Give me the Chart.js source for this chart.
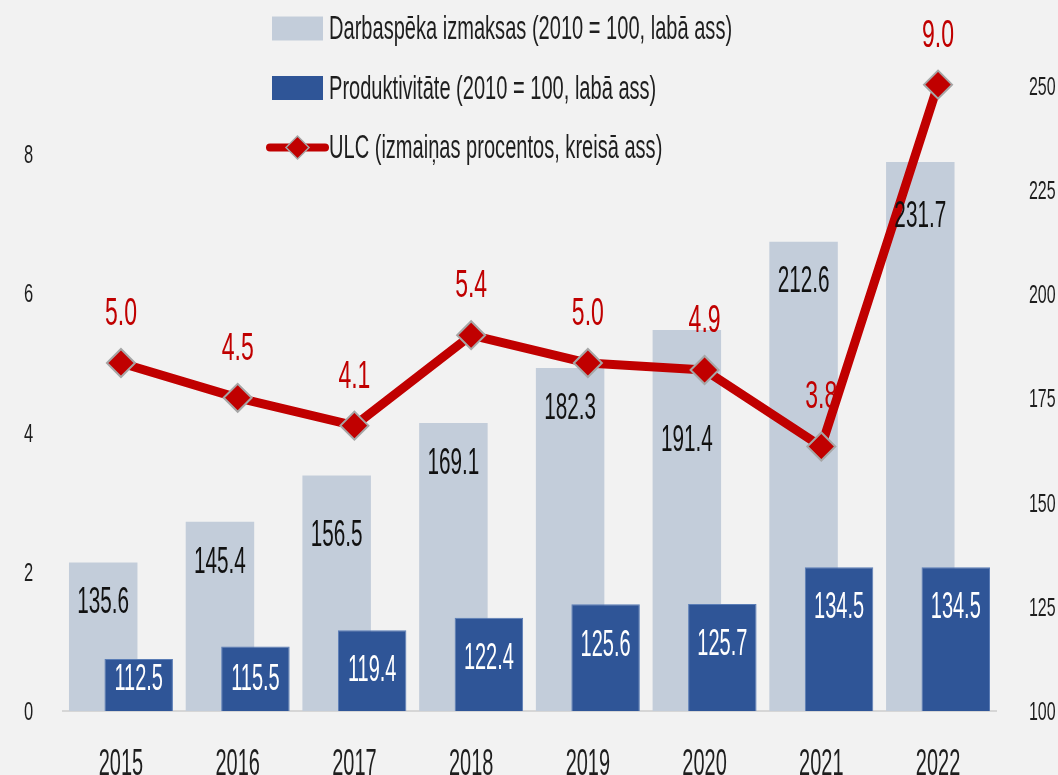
<!DOCTYPE html>
<html lang="lv">
<head>
<meta charset="utf-8">
<title>Darbaspēka izmaksas, produktivitāte un ULC</title>
<script src="https://cdn.jsdelivr.net/npm/chart.js@4.4.1/dist/chart.umd.min.js"></script>
<style>
  html, body { margin: 0; padding: 0; background: #f2f2f2; }
  #wrap { width: 1058px; height: 775px; }
</style>
</head>
<body>
<div id="wrap"><canvas id="ulcChart" width="1058" height="775"></canvas></div>
<script>
// --- data ---
const years = ["2015", "2016", "2017", "2018", "2019", "2020", "2021", "2022"];
const labourCost = [135.6, 145.4, 156.5, 169.1, 182.3, 191.4, 212.6, 231.7];   // 2010 = 100, right axis
const productivity = [112.5, 115.5, 119.4, 122.4, 125.6, 125.7, 134.5, 134.5]; // 2010 = 100, right axis
const ulcChange = [5.0, 4.5, 4.1, 5.4, 5.0, 4.9, 3.8, 9.0];                    // %, left axis
const leftTicks = [0, 2, 4, 6, 8];
const rightTicks = [100, 125, 150, 175, 200, 225, 250];

// extra downward shift (px) of the labour cost labels, to keep them clear of the line
const costLabelShift = [0, 0, 20, 0, 0, 70, 0, 14];

// no condensed face is installed, so Liberation Sans is squeezed horizontally
const FONT = "'Liberation Sans', Arial, sans-serif";
const RED = "#c00000";
const INK = "#1e1e1e";

function squeezedText(ctx, text, x, cy, size, color, align, squeeze) {
  ctx.save();
  ctx.font = size + "px " + FONT;
  ctx.fillStyle = color;
  ctx.textAlign = align || "center";
  ctx.textBaseline = "alphabetic";
  ctx.translate(x, cy + size * 0.358);
  ctx.scale(squeeze || 0.57, 1);
  ctx.fillText(text, 0, 0);
  ctx.restore();
}

const costSet = {
  type: "bar",
  label: "Darbaspēka izmaksas (2010 = 100, labā ass)",
  data: labourCost,
  yAxisID: "y1",
  stack: "a",
  backgroundColor: "#c3cdda",
  borderWidth: 0
};
const prodSet = {
  type: "bar",
  label: "Produktivitāte (2010 = 100, labā ass)",
  data: productivity,
  yAxisID: "y1",
  stack: "b",
  backgroundColor: "#2f5597",
  borderColor: "#5a7db6",
  borderWidth: 1
};
const ulcSet = {
  type: "line",
  label: "ULC (izmaiņas procentos, kreisā ass)",
  data: ulcChange,
  yAxisID: "y",
  order: -1,
  borderColor: RED,
  borderWidth: 9,
  borderJoinStyle: "round",
  tension: 0,
  pointStyle: "rectRot",
  pointRadius: 14,
  pointBackgroundColor: RED,
  pointBorderColor: "#a6a6a6",
  pointBorderWidth: 2
};
// empty spacer: puts the light bars left of the dark ones while the dark ones are painted on top
const spacerSet = {
  type: "bar",
  label: "",
  data: years.map(() => null),
  yAxisID: "y",
  stack: "a",
  backgroundColor: "rgba(0,0,0,0)"
};

// tick labels in the same squeezed face, placed by the chart's own scales
const axisText = {
  id: "axisText",
  afterDraw(chart) {
    const ctx = chart.ctx;
    const { x, y, y1 } = chart.scales;
    years.forEach((yr, i) => {
      squeezedText(ctx, yr, x.getPixelForValue(i), 761.5, 37, INK, "center", 0.54);
    });
    leftTicks.forEach(v => {
      squeezedText(ctx, String(v), x.left - 29.5, y.getPixelForValue(v), 25, INK, "right", 0.66);
    });
    rightTicks.forEach(v => {
      squeezedText(ctx, String(v), x.right + 32.5, y1.getPixelForValue(v), 25, INK, "left", 0.64);
    });
  }
};

const valueLabels = {
  id: "valueLabels",
  // ULC labels sit above the bars but under the line
  beforeDatasetDraw(chart, args) {
    if (chart.data.datasets[args.index] !== ulcSet) return;
    const ctx = chart.ctx;
    args.meta.data.forEach((pt, i) => {
      squeezedText(ctx, ulcChange[i].toFixed(1), pt.x, pt.y - 52, 39, RED, "center", 0.59);
    });
  },
  afterDatasetsDraw(chart) {
    const ctx = chart.ctx;
    const floor = chart.scales.y1.bottom;
    const costMeta = chart.getDatasetMeta(chart.data.datasets.indexOf(costSet));
    costMeta.data.forEach((bar, i) => {
      squeezedText(ctx, labourCost[i].toFixed(1), bar.x, bar.y + 37.5 + costLabelShift[i], 37, "#111111", "center", 0.56);
    });
    const prodMeta = chart.getDatasetMeta(chart.data.datasets.indexOf(prodSet));
    prodMeta.data.forEach((bar, i) => {
      const cy = Math.min(bar.y + 38, floor - 34);
      squeezedText(ctx, productivity[i].toFixed(1), bar.x, cy, 37, "#ffffff", "center", 0.54);
    });
  }
};

const listLegend = {
  id: "listLegend",
  afterDraw(chart) {
    const ctx = chart.ctx;
    [costSet, prodSet, ulcSet].forEach((ds, i) => {
      const cy = 28.5 + i * 59.5;
      ctx.save();
      if (ds.type === "line") {
        ctx.strokeStyle = ds.borderColor;
        ctx.lineWidth = 8;
        ctx.lineCap = "round";
        ctx.beginPath();
        ctx.moveTo(270, cy);
        ctx.lineTo(325, cy);
        ctx.stroke();
        ctx.fillStyle = ds.pointBackgroundColor;
        ctx.strokeStyle = ds.pointBorderColor;
        ctx.lineWidth = 1.5;
        Chart.helpers.drawPoint(ctx, { pointStyle: "rectRot", radius: 11.5, rotation: 0, borderWidth: 1.5 }, 297.5, cy);
      } else {
        ctx.fillStyle = ds.backgroundColor;
        ctx.fillRect(272, cy - 12, 51, 24);
      }
      ctx.restore();
      squeezedText(ctx, ds.label, 329, cy - 1.5, 34, INK, "left", 0.59);
    });
  }
};

new Chart(document.getElementById("ulcChart"), {
  data: {
    labels: years,
    datasets: [spacerSet, prodSet, costSet, ulcSet]
  },
  options: {
    responsive: false,
    animation: false,
    devicePixelRatio: 1,
    categoryPercentage: 0.608,
    barPercentage: 1.93,
    layout: { padding: { top: 22, left: 62.6, right: 61.6, bottom: 64 } },
    plugins: {
      legend: { display: false },
      tooltip: { enabled: false }
    },
    scales: {
      x: {
        grid: { display: false, drawTicks: false },
        border: { display: true, color: "#d6d6d6", width: 2 },
        ticks: { display: false }
      },
      y: {
        position: "left",
        min: 0,
        max: 9.9,
        stacked: false,
        afterBuildTicks: scale => { scale.ticks = leftTicks.map(v => ({ value: v })); },
        grid: { display: false, drawTicks: false },
        border: { display: false },
        ticks: { display: false }
      },
      y1: {
        position: "right",
        min: 100,
        max: 265.3,
        stacked: false,
        afterBuildTicks: scale => { scale.ticks = rightTicks.map(v => ({ value: v })); },
        grid: { display: false, drawTicks: false },
        border: { display: false },
        ticks: { display: false }
      }
    }
  },
  plugins: [axisText, valueLabels, listLegend]
});
</script>
</body>
</html>
